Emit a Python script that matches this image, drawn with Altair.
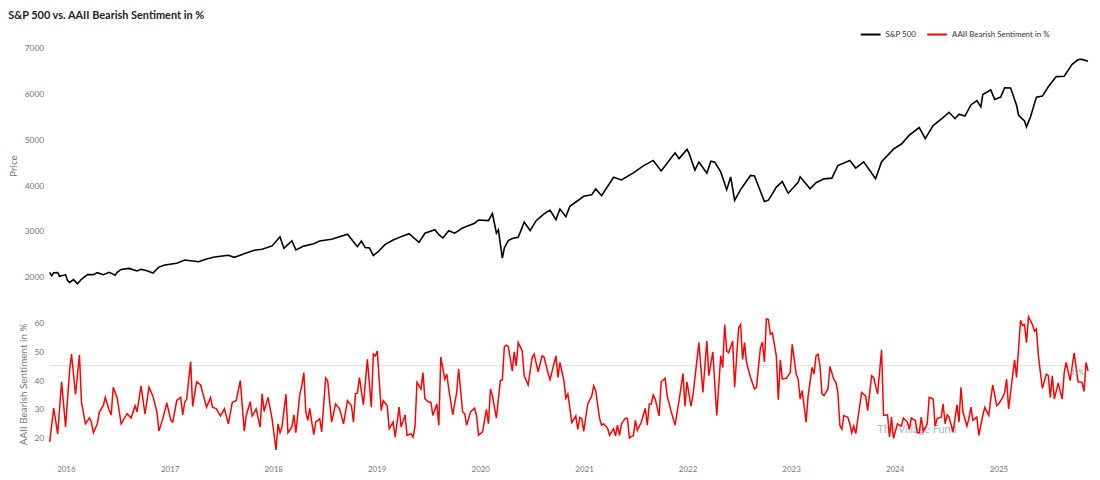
import altair as alt
import pandas as pd

# ---------------- data ----------------
sp_dates = [
    "2015-11-05", "2015-11-12", "2015-11-19", "2015-12-03", "2015-12-10", "2015-12-31",
    "2016-01-07", "2016-01-14", "2016-01-28", "2016-02-11", "2016-02-25", "2016-03-17",
    "2016-04-07", "2016-04-21", "2016-05-12", "2016-06-02", "2016-06-23", "2016-06-30",
    "2016-07-14", "2016-08-11", "2016-09-08", "2016-09-22", "2016-10-13", "2016-11-03",
    "2016-11-24", "2016-12-15", "2017-01-26", "2017-02-23", "2017-03-23", "2017-04-13",
    "2017-05-11", "2017-06-08", "2017-07-27", "2017-08-17", "2017-09-21", "2017-10-26",
    "2017-11-23", "2017-12-28", "2018-01-25", "2018-02-08", "2018-03-08", "2018-03-22",
    "2018-04-19", "2018-05-24", "2018-06-14", "2018-07-26", "2018-08-23", "2018-09-20",
    "2018-10-11", "2018-10-25", "2018-11-08", "2018-11-22", "2018-12-06", "2018-12-20",
    "2019-01-03", "2019-01-31", "2019-02-28", "2019-04-04", "2019-04-25", "2019-05-30",
    "2019-06-20", "2019-07-25", "2019-08-08", "2019-08-22", "2019-09-12", "2019-10-03",
    "2019-10-31", "2019-12-12", "2019-12-26", "2020-01-30", "2020-02-13", "2020-02-27",
    "2020-03-05", "2020-03-12", "2020-03-19", "2020-03-26", "2020-04-09", "2020-04-23",
    "2020-05-14", "2020-06-04", "2020-06-25", "2020-07-16", "2020-08-13", "2020-09-03",
    "2020-09-24", "2020-10-08", "2020-10-29", "2020-11-12", "2020-12-31", "2021-01-28",
    "2021-02-11", "2021-03-04", "2021-04-15", "2021-05-13", "2021-06-24", "2021-07-29",
    "2021-09-02", "2021-09-30", "2021-11-18", "2021-12-02", "2021-12-30", "2022-01-06",
    "2022-01-27", "2022-02-10", "2022-03-10", "2022-03-24", "2022-04-07", "2022-04-28",
    "2022-05-19", "2022-06-02", "2022-06-16", "2022-07-07", "2022-08-11", "2022-08-25",
    "2022-09-29", "2022-10-13", "2022-10-27", "2022-11-10", "2022-12-01", "2022-12-22",
    "2023-01-26", "2023-02-02", "2023-03-09", "2023-03-30", "2023-04-27", "2023-05-25",
    "2023-06-15", "2023-07-27", "2023-08-17", "2023-09-14", "2023-10-26", "2023-11-16",
    "2023-12-28", "2024-01-25", "2024-02-22", "2024-03-28", "2024-04-18", "2024-05-16",
    "2024-06-13", "2024-07-11", "2024-08-01", "2024-08-15", "2024-09-05", "2024-09-26",
    "2024-10-17", "2024-10-31", "2024-11-07", "2024-12-05", "2024-12-19", "2025-01-09",
    "2025-01-23", "2025-02-13", "2025-03-06", "2025-03-13", "2025-04-03", "2025-04-10",
    "2025-04-24", "2025-05-15", "2025-06-05", "2025-06-26", "2025-07-24", "2025-08-21",
    "2025-09-18", "2025-10-09", "2025-10-23", "2025-11-13",
]
sp_values = [
    2099, 2023, 2089, 2092, 2012, 2044,
    1922, 1880, 1940, 1850, 1948, 2050,
    2048, 2092, 2047, 2099, 2037, 2099,
    2162, 2184, 2128, 2165, 2133, 2085,
    2213, 2258, 2295, 2367, 2344, 2329,
    2391, 2432, 2472, 2426, 2502, 2581,
    2602, 2674, 2873, 2620, 2786, 2588,
    2670, 2721, 2780, 2819, 2875, 2930,
    2767, 2658, 2781, 2633, 2633, 2467,
    2532, 2707, 2804, 2893, 2940, 2752,
    2950, 3026, 2919, 2847, 3007, 2952,
    3067, 3169, 3240, 3225, 3380, 2954,
    3024, 2711, 2410, 2630, 2790, 2837,
    2864, 3193, 3009, 3224, 3373, 3455,
    3246, 3477, 3310, 3537, 3756, 3787,
    3916, 3768, 4170, 4112, 4266, 4419,
    4537, 4307, 4704, 4577, 4778, 4696,
    4326, 4504, 4259, 4520, 4500, 4287,
    3900, 4176, 3667, 3902, 4210, 4199,
    3640, 3670, 3807, 3956, 4076, 3822,
    4060, 4179, 3918, 4050, 4135, 4151,
    4426, 4537, 4370, 4505, 4137, 4508,
    4783, 4894, 5087, 5254, 5011, 5297,
    5434, 5585, 5446, 5543, 5503, 5745,
    5841, 5705, 5973, 6075, 5867, 5918,
    6118, 6115, 5738, 5521, 5397, 5268,
    5484, 5916, 5939, 6141, 6363, 6370,
    6631, 6735, 6738, 6700,
]

aaii_weeks = [
    0, 2, 4, 6, 8, 10, 11, 13, 15, 16, 18, 20, 21, 22, 24, 25, 27, 28, 30, 31,
    32, 34, 36, 39, 41, 43, 44, 46, 48, 50, 52, 54, 55, 57, 59, 61, 62, 64, 66, 67,
    68, 69, 71, 72, 74, 76, 79, 81, 82, 84, 86, 88, 90, 92, 94, 96, 98, 99, 101, 102,
    104, 106, 107, 108, 110, 112, 114, 115, 116, 117, 119, 120, 122, 123, 124, 126, 127, 128, 129, 130,
    131, 132, 133, 134, 136, 137, 139, 140, 142, 144, 146, 148, 150, 152, 153, 154, 155, 156, 158, 160,
    162, 163, 164, 165, 167, 168, 170, 171, 173, 174, 176, 177, 179, 180, 182, 183, 184, 185, 187, 188,
    189, 191, 192, 193, 195, 196, 197, 199, 200, 201, 203, 205, 206, 208, 209, 210, 212, 214, 215, 216,
    218, 220, 221, 222, 223, 225, 227, 228, 229, 230, 231, 233, 234, 235, 236, 238, 239, 241, 243, 244,
    246, 248, 249, 251, 252, 255, 256, 257, 259, 260, 261, 263, 265, 266, 267, 268, 269, 271, 273, 274,
    275, 277, 278, 279, 281, 282, 284, 285, 286, 287, 288, 290, 291, 292, 294, 295, 296, 298, 300, 301,
    302, 303, 304, 305, 307, 308, 310, 311, 313, 315, 317, 319, 320, 321, 323, 324, 327, 329, 331, 332,
    334, 336, 338, 339, 340, 341, 342, 344, 345, 347, 348, 349, 350, 351, 353, 355, 356, 358, 359, 360,
    361, 362, 363, 364, 366, 367, 368, 369, 371, 373, 374, 376, 377, 378, 379, 381, 382, 384, 385, 386,
    387, 388, 389, 390, 392, 393, 395, 396, 397, 398, 399, 400, 402, 403, 404, 405, 406, 408, 409, 411,
    412, 414, 415, 417, 419, 420, 422, 423, 424, 425, 427, 429, 430, 432, 433, 434, 436, 437, 438, 439,
    440, 442, 443, 445, 446, 447, 449, 450, 451, 452, 453, 455, 457, 458, 459, 460, 462, 463, 464, 465,
    467, 468, 470, 471, 473, 474, 475, 477, 478, 480, 481, 482, 483, 485, 486, 487, 489, 490, 491, 492,
    493, 495, 496, 497, 498, 500, 502, 503, 504, 505, 506, 508, 510, 511, 512, 514, 516, 518, 520, 521,
    522, 523,
]
aaii_values = [
    18.5, 30.3, 21.3, 39.4, 23.7, 43.2, 49.0, 35.0, 48.7, 32.3, 24.8, 26.9, 25.4, 21.7, 24.8, 28.9, 31.1, 34.0, 29.4, 27.9,
    37.5, 33.7, 24.8, 28.3, 26.8, 31.1, 28.9, 38.0, 28.2, 37.5, 34.4, 28.9, 22.3, 26.6, 32.1, 26.0, 25.4, 32.9, 34.0, 27.9,
    32.3, 33.4, 46.4, 30.8, 39.4, 38.3, 30.6, 33.9, 30.6, 30.0, 27.5, 30.0, 24.8, 32.3, 32.9, 39.8, 22.2, 27.7, 32.5, 27.5,
    30.0, 23.6, 35.2, 29.1, 34.0, 26.6, 15.7, 24.8, 21.7, 23.7, 35.1, 21.7, 23.7, 27.9, 21.7, 35.2, 38.0, 42.6, 28.9, 26.0,
    30.2, 25.4, 21.0, 25.4, 26.6, 22.0, 40.7, 39.8, 25.4, 31.7, 30.0, 24.8, 32.9, 31.1, 25.4, 35.2, 35.5, 40.9, 31.4, 47.2,
    30.6, 49.0, 48.4, 50.1, 29.4, 32.9, 31.1, 23.1, 25.4, 20.2, 30.6, 23.7, 27.9, 20.8, 21.4, 20.2, 23.7, 39.2, 36.9, 42.6,
    33.5, 32.3, 32.3, 27.7, 31.7, 24.3, 48.0, 40.3, 42.1, 36.9, 27.9, 35.7, 43.8, 28.9, 28.3, 24.3, 28.9, 30.2, 27.7, 20.8,
    22.0, 29.8, 24.8, 36.9, 34.6, 26.8, 39.8, 40.0, 51.6, 52.1, 51.6, 43.2, 49.8, 44.9, 53.0, 50.1, 41.5, 38.3, 47.8, 49.0,
    42.9, 48.4, 48.0, 42.4, 40.1, 48.4, 40.9, 46.1, 39.8, 33.7, 35.2, 25.2, 27.5, 22.9, 27.0, 26.6, 22.2, 31.7, 34.4, 38.0,
    36.3, 26.6, 24.3, 24.8, 23.3, 20.8, 23.1, 20.6, 24.3, 20.8, 24.8, 26.8, 26.6, 19.9, 20.8, 26.0, 22.5, 25.4, 30.2, 24.3,
    31.7, 31.7, 34.8, 33.4, 27.5, 39.4, 40.6, 34.6, 29.1, 24.3, 32.9, 42.3, 30.9, 39.4, 30.9, 34.6, 53.0, 35.7, 53.6, 41.5,
    49.8, 27.7, 48.4, 44.4, 59.3, 50.1, 49.5, 53.6, 37.5, 58.2, 59.3, 47.2, 53.0, 46.1, 40.9, 36.9, 37.5, 51.3, 53.2, 46.3,
    61.3, 61.0, 55.9, 56.4, 48.4, 33.2, 47.0, 40.3, 40.6, 42.6, 52.4, 42.1, 40.3, 33.4, 36.3, 25.4, 34.4, 44.4, 42.1, 48.4,
    49.0, 44.9, 35.2, 34.6, 36.9, 44.7, 40.1, 39.2, 35.7, 24.3, 22.9, 27.7, 27.1, 24.8, 21.7, 24.0, 21.4, 31.1, 35.7, 34.4,
    29.4, 41.5, 40.9, 35.2, 50.5, 27.7, 27.9, 20.2, 27.1, 19.7, 24.8, 24.0, 26.8, 25.4, 22.9, 26.8, 26.0, 21.7, 21.7, 27.1,
    22.2, 24.8, 34.0, 33.4, 24.0, 26.6, 27.1, 31.7, 24.8, 27.9, 27.1, 22.0, 31.4, 25.4, 37.5, 28.9, 24.0, 26.6, 30.6, 26.0,
    27.1, 20.8, 27.7, 30.6, 27.7, 33.4, 38.3, 31.1, 31.7, 34.0, 35.7, 40.3, 30.0, 41.5, 47.0, 40.9, 60.8, 59.0, 59.3, 53.0,
    62.0, 59.3, 57.0, 57.8, 48.4, 37.1, 42.1, 41.5, 34.0, 41.5, 33.4, 39.0, 33.4, 42.6, 46.1, 39.8, 49.5, 39.4, 39.2, 36.0,
    46.1, 43.2,
]

series_names = ["S&P 500", "AAII Bearish Sentiment in %"]
series_colors = ["#000000", "#ff0000"]
price_ticks = [2000, 3000, 4000, 5000, 6000, 7000]
sentiment_ticks = [20, 30, 40, 50, 60]
threshold = [45]
threshold_label = ["45%"]
watermark = ["The Village Fund"]

# ---------------- tables ----------------
start = pd.Timestamp("2015-11-05")
sp = pd.DataFrame({"date": pd.to_datetime(sp_dates), "value": sp_values, "series": series_names[0]})
aaii = pd.DataFrame({
    "date": [start + pd.Timedelta(days=7 * w) for w in aaii_weeks],
    "value": aaii_values,
    "series": series_names[1],
})
last_date = aaii["date"].max()
thr = pd.DataFrame({"value": threshold, "date": [last_date], "label": threshold_label})
wm = pd.DataFrame({"date": [pd.Timestamp("2024-03-20")], "value": [22.8], "label": watermark})

FONT = "Lato"
LABEL = "#777777"
xdomain = [alt.DateTime(year=2015, month=11, date=5), alt.DateTime(year=2025, month=11, date=13)]
xscale = alt.Scale(domain=xdomain)

color = alt.Color(
    "series:N",
    scale=alt.Scale(domain=series_names, range=series_colors),
    legend=alt.Legend(
        title=None, orient="none", legendX=816, legendY=-17, direction="horizontal",
        symbolType="stroke", symbolStrokeWidth=2, symbolSize=400, labelFontSize=8,
        labelColor="#333333", labelFont=FONT, columnPadding=7, labelOffset=4,
    ),
)

def yaxis(title, values):
    return alt.Axis(
        title=title, values=values, format="d", grid=False, domain=False, ticks=False,
        labelOverlap=False, labelFontSize=8.5, labelColor=LABEL, labelFont=FONT,
        labelPadding=6, titleFontSize=10, titleColor=LABEL, titleFont=FONT,
        titleFontWeight="normal", titlePadding=6,
    )

xaxis_bottom = alt.Axis(
    title=None, format="%Y", tickCount={"interval": "year", "step": 1}, grid=False,
    domain=False, ticks=False, labelFontSize=8, labelColor=LABEL, labelFont=FONT,
    labelPadding=12,
)

top = alt.Chart(sp).mark_line(strokeWidth=1.6).encode(
    x=alt.X("date:T", scale=xscale, axis=None),
    y=alt.Y("value:Q", scale=alt.Scale(domain=[1700, 7150], nice=False, zero=False),
            axis=yaxis("Price", price_ticks)),
    color=color,
).properties(width=1046, height=252)

ysc = alt.Scale(domain=[14.5, 62.8], nice=False, zero=False)
yax_b = yaxis("AAII Bearish Sentiment in %", sentiment_ticks)
X_B = alt.X("date:T", scale=xscale, axis=xaxis_bottom)
Y_B = alt.Y("value:Q", scale=ysc, axis=yax_b)

rule = alt.Chart(thr).mark_rule(color="#dcdcdc", strokeWidth=1).encode(y=Y_B)
wm_text = alt.Chart(wm).mark_text(
    font=FONT, fontSize=11, color="#9fb8d3", align="center", baseline="middle"
).encode(x=X_B, y=Y_B, text="label:N")

line = alt.Chart(aaii).mark_line(strokeWidth=1.5).encode(x=X_B, y=Y_B, color=color)

thr_text = alt.Chart(thr).mark_text(
    font=FONT, fontSize=7, color="#999999", align="right", baseline="middle", dx=-4, dy=7
).encode(x=X_B, y=Y_B, text="label:N")

bottom = alt.layer(rule, wm_text, line, thr_text).properties(width=1046, height=140)

chart = alt.vconcat(top, bottom, spacing=23).resolve_scale(color="shared").properties(
    title=alt.TitleParams(
        "S&P 500 vs. AAII Bearish Sentiment in %", anchor="start", frame="bounds",
        font=FONT, fontSize=11, fontWeight="bold", color="#222222", offset=3,
    ),
    padding={"left": 0, "top": 0, "right": 0, "bottom": 0},
).configure_view(stroke=None)

chart.save("out.html", embed_options={"renderer": "svg", "actions": False})
